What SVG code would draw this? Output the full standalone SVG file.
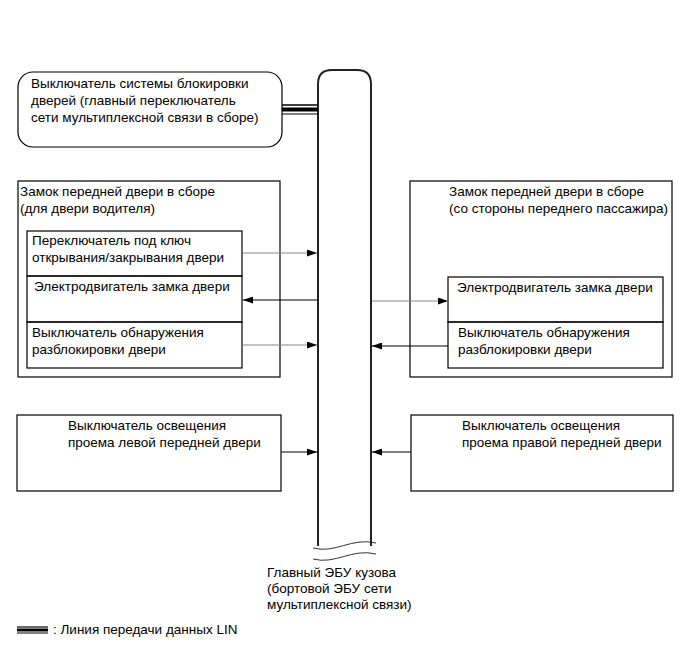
<svg xmlns="http://www.w3.org/2000/svg" width="691" height="660" viewBox="0 0 691 660">
<defs>
<style>
text{font-family:"Liberation Sans",Arial,sans-serif;font-size:13.5px;fill:#000}
.box{fill:none;stroke:#000;stroke-width:1.2}
.bar{fill:#fff;stroke:#222;stroke-width:2}
.sig{stroke:#888;stroke-width:1.2;fill:none}
.sigd{stroke:#000;stroke-width:1.2;fill:none}
</style>
<marker id="ah" viewBox="0 0 10 8" refX="10" refY="4" markerWidth="10" markerHeight="7" markerUnits="userSpaceOnUse" orient="auto" preserveAspectRatio="none">
<path d="M0,0 L10,4 L0,8 Z" fill="#000"/>
</marker>
</defs>
<rect width="691" height="660" fill="#fff"/>

<g id="ecu">
<path class="bar" d="M318,546 V84 Q318,70 332,70 H357 Q371,70 371,84 V546"/>
<path d="M313,548 C335,554 352,537 376,543" fill="none" stroke="#333" stroke-width="1"/>
<path d="M313,559 C335,565 352,548 376,554" fill="none" stroke="#333" stroke-width="1"/>
<text x="267" y="577">Главный ЭБУ кузова</text>
<text x="267" y="593">(бортовой ЭБУ сети</text>
<text x="267" y="609">мультиплексной связи)</text>
</g>

<g id="master-switch">
<rect x="18" y="72" width="264" height="75" rx="15" ry="15" class="box"/>
<text x="31" y="88">Выключатель системы блокировки</text>
<text x="31" y="105">дверей (главный переключатель</text>
<text x="31" y="122">сети мультиплексной связи в сборе)</text>
</g>

<g id="driver-lock">
<rect x="18" y="181" width="262" height="196" class="box"/>
<text x="20" y="196">Замок передней двери в сборе</text>
<text x="20" y="213">(для двери водителя)</text>
</g>
<g id="driver-key-switch">
<rect x="27" y="231" width="215" height="45" class="box"/>
<text x="32" y="245">Переключатель под ключ</text>
<text x="32" y="262">открывания/закрывания двери</text>
</g>
<g id="driver-motor">
<rect x="27" y="276" width="215" height="46" class="box"/>
<text x="34" y="291">Электродвигатель замка двери</text>
</g>
<g id="driver-unlock-switch">
<rect x="27" y="322" width="215" height="46" class="box"/>
<text x="32" y="337">Выключатель обнаружения</text>
<text x="32" y="354">разблокировки двери</text>
</g>

<g id="passenger-lock">
<rect x="410" y="181" width="262" height="196" class="box"/>
<text x="449" y="196">Замок передней двери в сборе</text>
<text x="449" y="213">(со стороны переднего пассажира)</text>
</g>
<g id="passenger-motor">
<rect x="448" y="277" width="215" height="45" class="box"/>
<text x="457" y="292">Электродвигатель замка двери</text>
</g>
<g id="passenger-unlock-switch">
<rect x="448" y="322" width="215" height="46" class="box"/>
<text x="458" y="337">Выключатель обнаружения</text>
<text x="458" y="354">разблокировки двери</text>
</g>

<g id="left-courtesy">
<rect x="17" y="415" width="264" height="76" class="box"/>
<text x="68" y="430">Выключатель освещения</text>
<text x="68" y="447">проема левой передней двери</text>
</g>
<g id="right-courtesy">
<rect x="411" y="415" width="262" height="76" class="box"/>
<text x="462" y="430">Выключатель освещения</text>
<text x="462" y="447">проема правой передней двери</text>
</g>

<g id="connectors">
<line x1="282" y1="105" x2="318" y2="105" stroke="#000" stroke-width="1.5"/>
<line x1="282" y1="109.5" x2="318" y2="109.5" stroke="#000" stroke-width="4"/>
<line x1="282" y1="114" x2="318" y2="114" stroke="#000" stroke-width="1.2"/>
<line x1="242" y1="253" x2="317" y2="253" class="sig" marker-end="url(#ah)"/>
<line x1="317" y1="300" x2="243" y2="300" class="sigd" marker-end="url(#ah)"/>
<line x1="242" y1="345" x2="317" y2="345" class="sig" marker-end="url(#ah)"/>
<line x1="372" y1="301" x2="448" y2="301" class="sig" marker-end="url(#ah)"/>
<line x1="448" y1="346" x2="372" y2="346" class="sigd" marker-end="url(#ah)"/>
<line x1="281" y1="452" x2="317" y2="452" class="sigd" marker-end="url(#ah)"/>
<line x1="411" y1="452" x2="372" y2="452" class="sigd" marker-end="url(#ah)"/>
</g>

<g id="legend">
<line x1="17" y1="627" x2="48" y2="627" stroke="#000" stroke-width="1.2"/>
<line x1="17" y1="630" x2="48" y2="630" stroke="#000" stroke-width="3"/>
<line x1="17" y1="633" x2="48" y2="633" stroke="#000" stroke-width="1"/>
<text x="53" y="634">: Линия передачи данных LIN</text>
</g>
</svg>
